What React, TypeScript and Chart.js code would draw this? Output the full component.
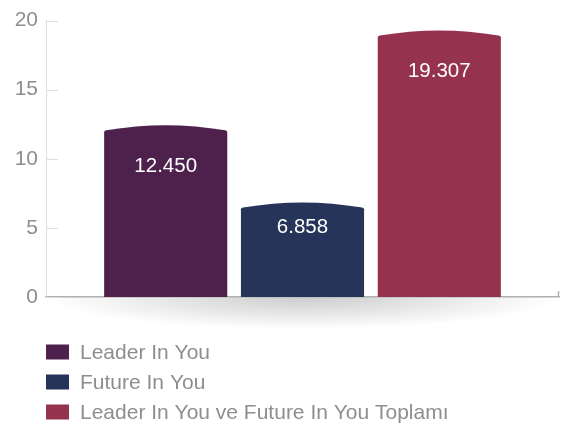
import React, { useEffect, useRef } from "react";
import { Chart, registerables } from "chart.js";

Chart.register(...registerables);

const categories = [""];
const seriesNames = ["Leader In You", "Future In You", "Leader In You ve Future In You Toplamı"];
const leaderValues = [12.45];
const futureValues = [6.858];
const totalValues = [19.307];
const seriesColors = ["#4E214D", "#263459", "#95334E"];
const yTickValues = [0, 5, 10, 15, 20];

const FONT = "'Helvetica Neue', 'Liberation Sans', Arial, sans-serif";
const TEXT_GRAY = "#8e8e8e";

const decorPlugin = {
  id: "decor",
  beforeDraw(chart: any) {
    const { ctx, chartArea } = chart;
    const cx = (chartArea.left + chartArea.right) / 2;
    const halfW = (chartArea.right - chartArea.left) / 2;
    ctx.save();
    ctx.translate(cx, chartArea.bottom);
    ctx.scale(1, 32 / halfW);
    const g = ctx.createRadialGradient(0, 0, 0, 0, 0, halfW);
    g.addColorStop(0, "rgba(0,0,0,0.2)");
    g.addColorStop(0.5, "rgba(0,0,0,0.1)");
    g.addColorStop(1, "rgba(0,0,0,0)");
    ctx.fillStyle = g;
    ctx.fillRect(-halfW, 0, halfW * 2, halfW);
    ctx.restore();
  },
  beforeDatasetDraw() {
    return false;
  },
  afterDatasetsDraw(chart: any) {
    const { ctx, chartArea } = chart;
    const yScale = chart.scales.y;
    ctx.save();
    ctx.strokeStyle = "#dedede";
    ctx.lineWidth = 1;
    yScale.ticks.forEach((t: any) => {
      const py = Math.round(yScale.getPixelForValue(t.value)) + 0.5;
      ctx.beginPath();
      ctx.moveTo(chartArea.left, py);
      ctx.lineTo(chartArea.left + 12, py);
      ctx.stroke();
    });
    ctx.strokeStyle = "#b0b0b0";
    ctx.lineWidth = 1.5;
    ctx.beginPath();
    ctx.moveTo(chartArea.right - 0.5, chartArea.bottom);
    ctx.lineTo(chartArea.right - 0.5, chartArea.bottom - 6);
    ctx.stroke();

    chart.data.datasets.forEach((ds: any, di: number) => {
      const meta = chart.getDatasetMeta(di);
      meta.data.forEach((bar: any, i: number) => {
        const { x, y, base, width } = bar.getProps(["x", "y", "base", "width"], true);
        const l = x - width / 2;
        const r = x + width / 2;
        const drop = 6;
        ctx.fillStyle = ds.backgroundColor;
        ctx.beginPath();
        ctx.moveTo(l, base);
        ctx.lineTo(l, y + drop + 1);
        ctx.quadraticCurveTo(l, y + drop, l + 2, y + drop - 0.6);
        ctx.quadraticCurveTo(x, y - drop + 1, r - 2, y + drop - 0.6);
        ctx.quadraticCurveTo(r, y + drop, r, y + drop + 1);
        ctx.lineTo(r, base);
        ctx.closePath();
        ctx.fill();
        const v = ds.data[i];
        const off = Math.min(41, (base - y) * 0.27);
        ctx.fillStyle = "#ffffff";
        ctx.font = `20.5px ${FONT}`;
        ctx.textAlign = "center";
        ctx.textBaseline = "middle";
        ctx.fillText(v.toFixed(3), x, y + off);
      });
    });
    ctx.restore();
  },
  afterDraw(chart: any) {
    const { ctx, chartArea } = chart;
    ctx.save();
    ctx.font = `21px ${FONT}`;
    ctx.textAlign = "left";
    ctx.textBaseline = "middle";
    chart.data.datasets.forEach((ds: any, i: number) => {
      const cy = chartArea.bottom + 55 + i * 30;
      ctx.fillStyle = ds.backgroundColor;
      ctx.fillRect(chartArea.left, cy - 7.5, 23, 15);
      ctx.fillStyle = TEXT_GRAY;
      ctx.fillText(ds.label, chartArea.left + 34, cy + 1);
    });
    ctx.restore();
  },
};

export default function App() {
  const ref = useRef<HTMLCanvasElement | null>(null);
  useEffect(() => {
    if (!ref.current) return;
    const chart = new Chart(ref.current, {
      type: "bar",
      data: {
        labels: categories,
        datasets: [
          { label: seriesNames[0], data: leaderValues, backgroundColor: seriesColors[0] },
          { label: seriesNames[1], data: futureValues, backgroundColor: seriesColors[1] },
          { label: seriesNames[2], data: totalValues, backgroundColor: seriesColors[2] },
        ],
      },
      options: {
        animation: false,
        responsive: false,
        devicePixelRatio: 1,
        layout: { padding: { top: 15, right: 2, bottom: 130, left: 0 } },
        plugins: { legend: { display: false }, tooltip: { enabled: false } },
        scales: {
          x: {
            grid: { display: false, drawTicks: false },
            ticks: { display: false },
            border: { color: "#b0b0b0", width: 1.5 },
            afterFit: (s: any) => {
              s.height = 0;
            },
          },
          y: {
            min: 0,
            max: 20,
            afterBuildTicks: (s: any) => {
              s.ticks = yTickValues.map((v) => ({ value: v }));
            },
            ticks: { padding: 8, color: TEXT_GRAY, font: { family: FONT, size: 21 } },
            grid: { display: false, drawTicks: false },
            border: { color: "#dedede" },
            afterFit: (s: any) => {
              s.width = 46;
            },
          },
        },
      },
      plugins: [decorPlugin],
    });
    return () => chart.destroy();
  }, []);
  return (
    <div style={{ position: "fixed", left: 0, top: 0, width: 561, height: 427, background: "#fff" }}>
      <canvas ref={ref} width={561} height={427} style={{ display: "block" }} />
    </div>
  );
}
